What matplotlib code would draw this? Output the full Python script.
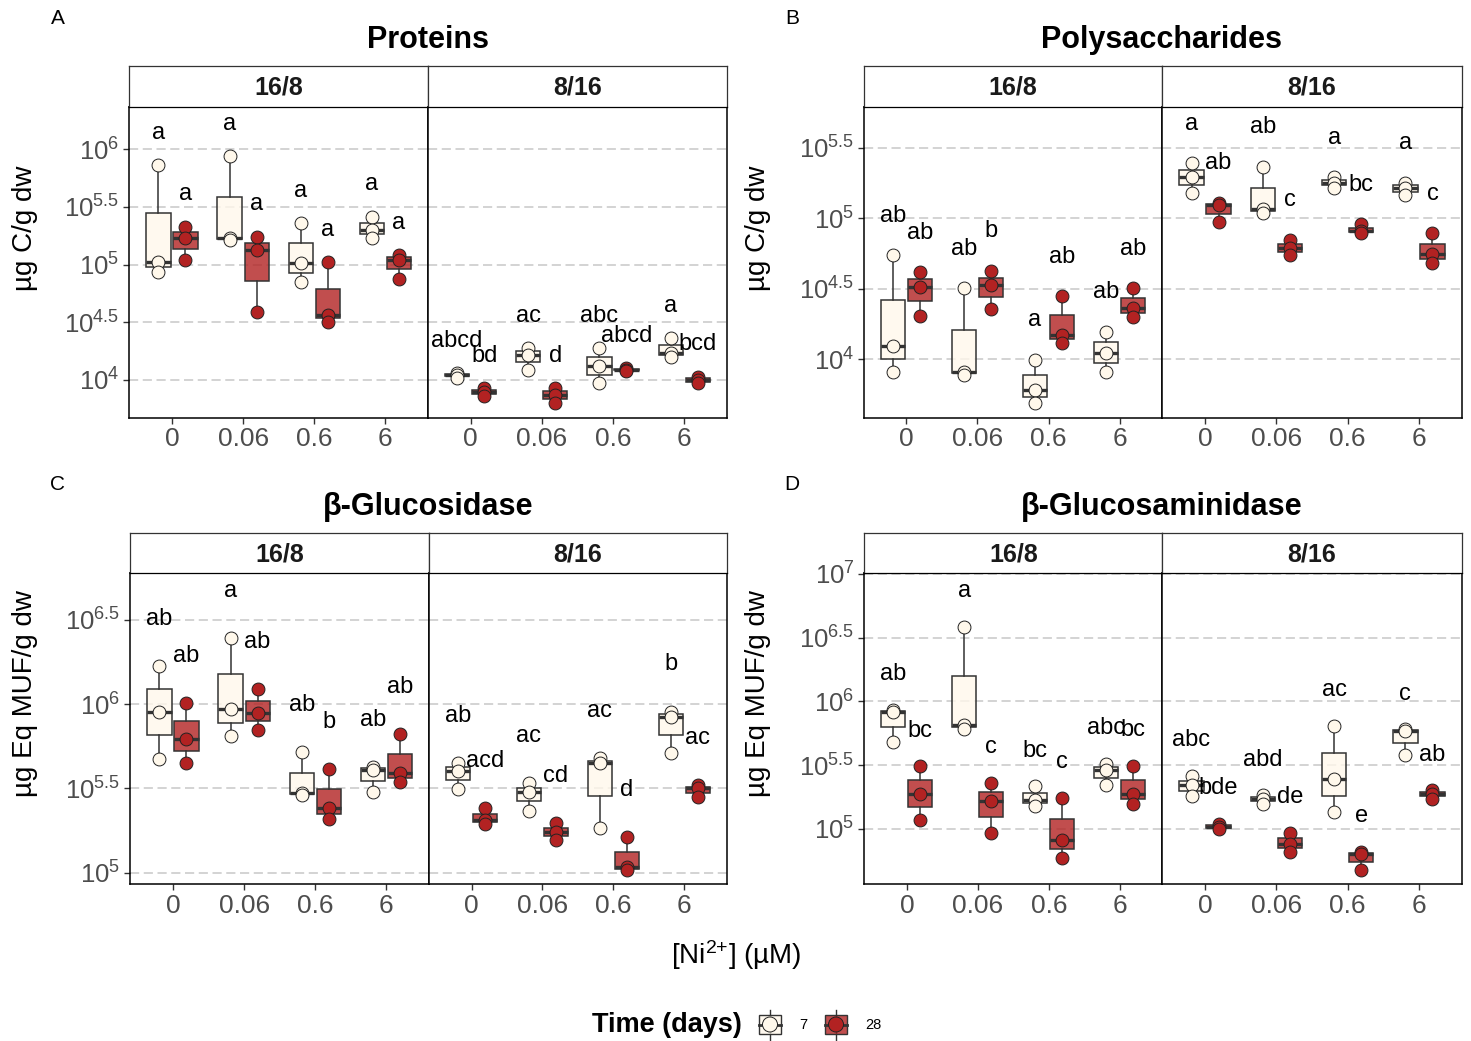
import numpy as np
import matplotlib
matplotlib.use("Agg")
import matplotlib.pyplot as plt
from matplotlib.patches import Rectangle, Circle

plt.rcParams["font.family"] = ["Liberation Sans", "DejaVu Sans"]
plt.rcParams["mathtext.fontset"] = "custom"
plt.rcParams["mathtext.rm"] = "Liberation Sans"
plt.rcParams["mathtext.it"] = "Liberation Sans:italic"
plt.rcParams["mathtext.bf"] = "Liberation Sans:bold"

W, H = 1471, 1041

ni_levels = ["0", "0.06", "0.6", "6"]
photoperiods = ["16/8", "8/16"]
days = ["7", "28"]

# log10 of the three replicates per Ni level (0, 0.06, 0.6, 6)
prot_7_168 = [[5.864, 5.026, 4.934], [5.942, 5.234, 5.214], [5.358, 5.012, 4.847], [5.416, 5.301, 5.228]]
prot_28_168 = [[5.33, 5.228, 5.04], [5.243, 5.127, 4.587], [5.02, 4.564, 4.507], [5.084, 5.04, 4.876]]
prot_7_816 = [[4.059, 4.044, 4.017], [4.276, 4.218, 4.088], [4.276, 4.117, 3.972], [4.363, 4.238, 4.203]]
prot_28_816 = [[3.93, 3.90, 3.857], [3.93, 3.871, 3.80], [4.10, 4.09, 4.08], [4.03, 4.0, 3.97]]
prot_let_7 = [["a", "a", "a", "a"], ["abcd", "ac", "abc", "a"]]
prot_let_28 = [["a", "a", "a", "a"], ["bd", "d", "abcd", "bcd"]]

poly_7_168 = [[4.739, 4.093, 3.907], [4.502, 3.911, 3.888], [3.994, 3.781, 3.687], [4.195, 4.041, 3.907]]
poly_28_168 = [[4.616, 4.514, 4.309], [4.628, 4.526, 4.353], [4.448, 4.171, 4.117], [4.502, 4.361, 4.297]]
poly_7_816 = [[5.389, 5.29, 5.181], [5.365, 5.063, 5.039], [5.29, 5.252, 5.212], [5.252, 5.212, 5.164]]
poly_28_816 = [[5.11, 5.093, 4.972], [4.846, 4.786, 4.739], [4.956, 4.911, 4.892], [4.892, 4.743, 4.68]]
poly_let_7 = [["ab", "ab", "a", "ab"], ["a", "ab", "a", "a"]]
poly_let_28 = [["ab", "b", "ab", "ab"], ["ab", "c", "bc", "c"]]

gluc_7_168 = [[6.227, 5.956, 5.673], [6.391, 5.97, 5.813], [5.714, 5.471, 5.461], [5.629, 5.609, 5.481]]
gluc_28_168 = [[6.005, 5.793, 5.653], [6.09, 5.95, 5.847], [5.613, 5.382, 5.317], [5.823, 5.59, 5.54]]
gluc_7_816 = [[5.649, 5.606, 5.495], [5.53, 5.481, 5.366], [5.679, 5.649, 5.263], [5.956, 5.926, 5.712]]
gluc_28_816 = [[5.382, 5.313, 5.289], [5.293, 5.24, 5.194], [5.21, 5.032, 5.016], [5.52, 5.501, 5.451]]
gluc_let_7 = [["ab", "a", "ab", "ab"], ["ab", "ac", "ac", "b"]]
gluc_let_28 = [["ab", "ab", "b", "ab"], ["acd", "cd", "d", "ac"]]

glcn_7_168 = [[5.932, 5.914, 5.68], [6.583, 5.815, 5.784], [5.333, 5.224, 5.177], [5.51, 5.464, 5.341]]
glcn_28_168 = [[5.49, 5.271, 5.068], [5.362, 5.219, 4.969], [5.242, 4.917, 4.773], [5.492, 5.276, 5.198]]
glcn_7_816 = [[5.414, 5.341, 5.255], [5.263, 5.237, 5.198], [5.81, 5.388, 5.133], [5.781, 5.771, 5.583]]
glcn_28_816 = [[5.042, 5.016, 5.003], [4.969, 4.885, 4.82], [4.82, 4.802, 4.677], [5.302, 5.276, 5.237]]
glcn_let_7 = [["ab", "a", "bc", "abc"], ["abc", "abd", "ac", "c"]]
glcn_let_28 = [["bc", "c", "c", "bc"], ["bde", "de", "e", "ab"]]

pt_fill = {"7": "#FFF8EB", "28": "#B22222"}
box_fill = {"7": (1.0, 0.973, 0.92, 0.8), "28": (0.698, 0.133, 0.133, 0.8)}
dodge = {"7": -0.19, "28": 0.19}
edge = "#333333"
tick_grey = "#4D4D4D"

fig = plt.figure(figsize=(W / 100, H / 100), dpi=100)


def px_axes(x0, y0, x1, y1):
    return fig.add_axes([x0 / W, 1 - y1 / H, (x1 - x0) / W, (y1 - y0) / H])


def draw_facet(ax, groups, ylim, ticks, first):
    pos = np.arange(1, len(ni_levels) + 1)
    for day, vals, letters in groups:
        off = dodge[day]
        ax.boxplot(vals, positions=pos + off, widths=0.34, patch_artist=True,
                   showfliers=False, showcaps=False, manage_ticks=False,
                   boxprops=dict(facecolor=box_fill[day], edgecolor=edge, linewidth=1.1),
                   whiskerprops=dict(color=edge, linewidth=1.1),
                   medianprops=dict(color=edge, linewidth=2.4),
                   zorder=2)
        for i, grp in enumerate(vals):
            ax.scatter(np.full(len(grp), pos[i] + off), grp, s=86, c=pt_fill[day],
                       edgecolors="#222222", linewidths=0.7, zorder=3)
            ax.text(pos[i] + off, max(grp) + 0.28, letters[i], ha="center", va="center",
                    fontsize=17, color="black", zorder=4)
    ax.set_xlim(0.4, 4.6)
    ax.set_ylim(*ylim)
    ax.set_xticks(pos)
    ax.set_xticklabels(ni_levels, fontsize=19, color=tick_grey)
    ax.set_yticks(ticks)
    ax.set_yticklabels([f"$10^{{{t:g}}}$" for t in ticks], fontsize=18.5, color=tick_grey)
    ax.yaxis.grid(True, color="#C8C8C8", linestyle=(0, (6, 3)), linewidth=1.1)
    ax.set_axisbelow(True)
    ax.tick_params(axis="both", length=4, width=1, color=edge, pad=3)
    if not first:
        ax.tick_params(axis="y", left=False, labelleft=False)
    for sp in ax.spines.values():
        sp.set_color("black")
        sp.set_linewidth(1.1)


def strip(x0, x1, y0, y1, label):
    s = px_axes(x0, y0, x1, y1)
    s.set_xticks([])
    s.set_yticks([])
    for sp in s.spines.values():
        sp.set_color("#333333")
        sp.set_linewidth(0.9)
    s.spines["bottom"].set_color("black")
    s.text(0.5, 0.47, label, transform=s.transAxes, ha="center", va="center",
           fontsize=18, fontweight="bold", color="#1A1A1A")


def panel(xs, ys, data, ylim, ticks):
    x0, xm, x1 = xs
    st, top, bot = ys
    for k, (lo, hi) in enumerate([(x0, xm), (xm, x1)]):
        ax = px_axes(lo, top, hi, bot)
        draw_facet(ax, data[k], ylim, ticks, k == 0)
        strip(lo, hi, st, top, photoperiods[k])


panel((129.3, 428.0, 726.8), (66, 107.3, 417.7),
      [[("7", prot_7_168, prot_let_7[0]), ("28", prot_28_168, prot_let_28[0])],
       [("7", prot_7_816, prot_let_7[1]), ("28", prot_28_816, prot_let_28[1])]],
      (3.673, 6.364), [4, 4.5, 5, 5.5, 6])
panel((863.7, 1162.3, 1461.7), (66, 107.3, 417.7),
      [[("7", poly_7_168, poly_let_7[0]), ("28", poly_28_168, poly_let_28[0])],
       [("7", poly_7_816, poly_let_7[1]), ("28", poly_28_816, poly_let_28[1])]],
      (3.584, 5.787), [4, 4.5, 5, 5.5])
panel((130.3, 429.0, 726.8), (532.7, 573.3, 884),
      [[("7", gluc_7_168, gluc_let_7[0]), ("28", gluc_28_168, gluc_let_28[0])],
       [("7", gluc_7_816, gluc_let_7[1]), ("28", gluc_28_816, gluc_let_28[1])]],
      (4.933, 6.777), [5, 5.5, 6, 6.5])
panel((864.3, 1162.3, 1461.7), (532.7, 573.3, 884),
      [[("7", glcn_7_168, glcn_let_7[0]), ("28", glcn_28_168, glcn_let_28[0])],
       [("7", glcn_7_816, glcn_let_7[1]), ("28", glcn_28_816, glcn_let_28[1])]],
      (4.568, 7.005), [5, 5.5, 6, 6.5, 7])

# page-level text and legend, in pixel coordinates
ov = fig.add_axes([0, 0, 1, 1])
ov.set_xlim(0, W)
ov.set_ylim(H, 0)
ov.axis("off")

for lab, x, y in [("A", 58, 18), ("B", 792, 18), ("C", 58, 484), ("D", 792, 484)]:
    ov.text(x, y, lab, ha="center", va="center", fontsize=15)

for title, x, y in [("Proteins", 428, 40), ("Polysaccharides", 1162, 40),
                    ("β-Glucosidase", 428, 507), ("β-Glucosaminidase", 1162, 507)]:
    ov.text(x, y, title, ha="center", va="center", fontsize=22, fontweight="bold")

for lab, x, y in [("µg C/g dw", 25, 228), ("µg C/g dw", 758, 228),
                  ("µg Eq MUF/g dw", 25, 694), ("µg Eq MUF/g dw", 758, 694)]:
    ov.text(x, y, lab, ha="center", va="center", rotation=90, fontsize=20)

ov.text(736, 955, "[Ni$^{2{+}}$] (µM)", ha="center", va="center", fontsize=20)

ov.text(667, 1025, "Time (days)", ha="center", va="center", fontsize=19.5, fontweight="bold")
for day, cx, tx in [("7", 770, 803), ("28", 836, 873)]:
    ov.plot([cx, cx], [1010, 1040], color=edge, lw=1.0, zorder=1)
    ov.add_patch(Rectangle((cx - 11, 1015), 22, 19, facecolor=box_fill[day], edgecolor=edge, lw=1.0, zorder=2))
    ov.plot([cx - 11, cx + 11], [1024.5, 1024.5], color=edge, lw=2.0, zorder=3)
    ov.add_patch(Circle((cx, 1024.5), 7.5, facecolor=pt_fill[day], edgecolor="#222222", lw=0.7, zorder=4))
    ov.text(tx, 1025, day, ha="center", va="center", fontsize=10.5)

fig.savefig("out.png", dpi=100)
